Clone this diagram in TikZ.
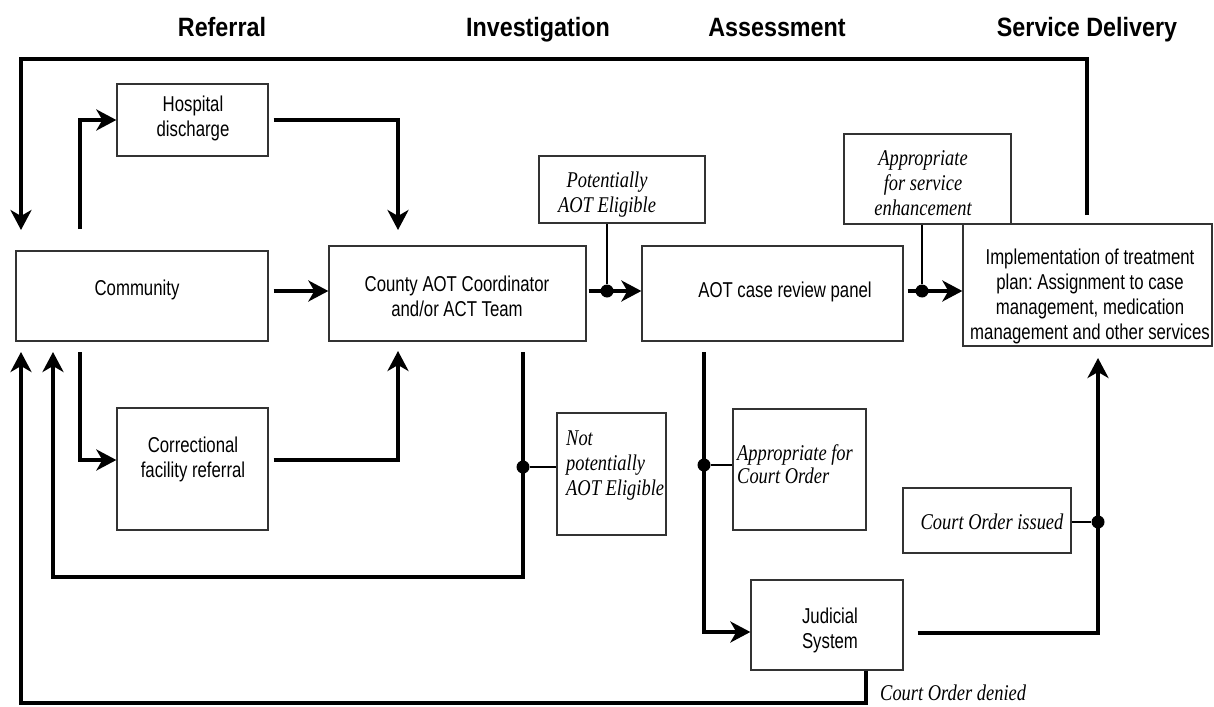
\documentclass[tikz,border=0pt]{standalone}
\usepackage{fontspec}
\usetikzlibrary{arrows.meta,calc}
\newfontfamily\headfont{Liberation Sans}[FakeStretch=0.88]
\newfontfamily\boxfont{Liberation Sans}[FakeStretch=0.78]
\newfontfamily\notefont{Liberation Serif}[FakeStretch=0.82]
\frenchspacing
\begin{document}
\begin{tikzpicture}[x=1pt,y=-1pt,
  box/.style={draw=black!80, line width=1.3pt, fill=white, inner sep=0pt},
  flow/.style={line width=4.5pt, -{Stealth[length=20pt,width=21pt,inset=6pt]}},
  tie/.style={line width=1.6pt},
  dot/.style={circle, fill=black, inner sep=0pt, minimum size=13pt},
  head/.style={font=\headfont\bfseries\fontsize{26.5}{30}\selectfont, anchor=base},
  lbl/.style={font=\boxfont\fontsize{21.5}{25}\selectfont, align=center, inner sep=0pt},
  note/.style={font=\notefont\itshape\fontsize{22.5}{25}\selectfont, align=left, inner sep=0pt}]

\useasboundingbox[fill=white] (0,0) rectangle (1214,706);

% phase headings
\node[head] (hRef) at (222,37) {Referral};
\node[head] (hInv) at (538,37) {Investigation};
\node[head] (hAss) at (777,37) {Assessment};
\node[head] (hSrv) at (1087,37) {Service Delivery};

% boxes
\node[box, minimum width=151pt, minimum height=72pt]  (hosp)     at (192.5,120)   {};
\node[box, minimum width=252pt, minimum height=90pt]  (comm)     at (142,296)     {};
\node[box, minimum width=257pt, minimum height=95pt]  (county)   at (457.5,293.5) {};
\node[box, minimum width=151pt, minimum height=122pt] (corr)     at (192.5,469)   {};
\node[box, minimum width=166pt, minimum height=67pt]  (pot)      at (622,189.5)   {};
\node[box, minimum width=109pt, minimum height=122pt] (notpot)   at (611.5,474)   {};
\node[box, minimum width=261pt, minimum height=95pt]  (panel)    at (772.5,293.5) {};
\node[box, minimum width=167pt, minimum height=90pt]  (svc)      at (927.5,179)   {};
\node[box, minimum width=249pt, minimum height=122pt] (impl)     at (1087.5,285)  {};
\node[box, minimum width=133pt, minimum height=121pt] (courtapp) at (799.5,469.5) {};
\node[box, minimum width=168pt, minimum height=65pt]  (issued)   at (987,520.5)   {};
\node[box, minimum width=152pt, minimum height=90pt]  (jud)      at (827,625)     {};

% box texts
\node[lbl] (tHosp)   at (193,118) {Hospital\\discharge};
\node[lbl] (tComm)   at (137,290) {Community};
\node[lbl] (tCounty) at (457,296) {County AOT Coordinator\\and/or ACT Team};
\node[lbl] (tCorr)   at (193,459) {Correctional\\facility referral};
\node[lbl] (tPanel)  at (785,292) {AOT case review panel};
\node[lbl] (tImpl)   at (1090,296) {Implementation of treatment\\plan: Assignment to case\\management, medication\\management and other services};
\node[lbl] (tJud)    at (830,630) {Judicial\\System};

% decision notes
\node[note, align=center] (tPot) at (607,195) {Potentially\\AOT Eligible};
\node[note, anchor=west] (tNot) at (566,466) {Not\\potentially\\AOT Eligible};
\node[note, align=center] (tSvc) at (923,183) {Appropriate\\for service\\enhancement};
\node[note, anchor=west, font=\notefont\itshape\fontsize{22.5}{23}\selectfont] (tCourt) at (737,464) {Appropriate for\\Court Order};
\node[note] (tIss) at (992,522) {Court Order issued};
\node[note, anchor=west] (tDen) at (880,693) {Court Order denied};

% free ends and corners of connectors
\coordinate (fbStart) at (1087,215);
\coordinate (fbTop)   at (21,59);
\coordinate (fbEnd)   at (21,230);
\coordinate (hospFeed) at (80,229);
\coordinate (cntIn1)  at (398,230);
\coordinate (corrFeed) at (80,352);
\coordinate (corrIn)  at ($(corr.west)+(0,-9)$);
\coordinate (corrOut) at ($(corr.east)+(5,-9)$);
\coordinate (cntIn2)  at (398,351);
\coordinate (chainA)  at ($(comm.east)+(5,-5)$);
\coordinate (chainB)  at ($(county.east)+(2,-2.5)$);
\coordinate (chainC)  at ($(panel.east)+(4,-2.5)$);
\coordinate (nS)      at (523,352);
\coordinate (nB)      at (53,577);
\coordinate (nE)      at (53,352);
\coordinate (aS)      at (704,352);
\coordinate (judIn)   at ($(jud.west)+(0,7)$);
\coordinate (jOut)    at ($(jud.east)+(14,8)$);
\coordinate (implIn)  at (1098,358);
\coordinate (jS)      at ($(jud.south)+(39,0)$);
\coordinate (bl)      at (21,703);
\coordinate (commIn)  at (21,352);

% referral flows
\draw[flow] (fbStart) |- (fbTop) -- (fbEnd);
\draw[flow] (hospFeed) |- (hosp.west);
\draw[flow] ($(hosp.east)+(5,0)$) -| (cntIn1);
\draw[flow] (corrFeed) |- (corrIn);
\draw[flow] (corrOut) -| (cntIn2);
\draw[flow] (chainA) -- (chainA -| county.west);

% investigation and assessment
\draw[flow] (chainB) -- (chainB -| panel.west);
\node[dot] (d1) at (607,291) {};
\draw[tie] (d1) -- (d1 |- pot.south);

\draw[flow] (chainC) -- (chainC -| impl.west);
\node[dot] (d2) at (922,291) {};
\draw[tie] (d2) -- (d2 |- svc.south);

\draw[flow] (nS) |- (nB) -- (nE);
\node[dot] (d3) at (523,467) {};
\draw[tie] (d3) -- (d3 -| notpot.west);

\draw[flow] (aS) |- (judIn);
\node[dot] (d4) at (704,465) {};
\draw[tie] (d4) -- (d4 -| courtapp.west);

% court outcomes
\draw[flow] (jOut) -| (implIn);
\node[dot] (d5) at (1098,522) {};
\draw[tie] (d5 -| issued.east) -- (d5);

\draw[flow] (jS) |- (bl) -- (commIn);
\end{tikzpicture}
\end{document}
